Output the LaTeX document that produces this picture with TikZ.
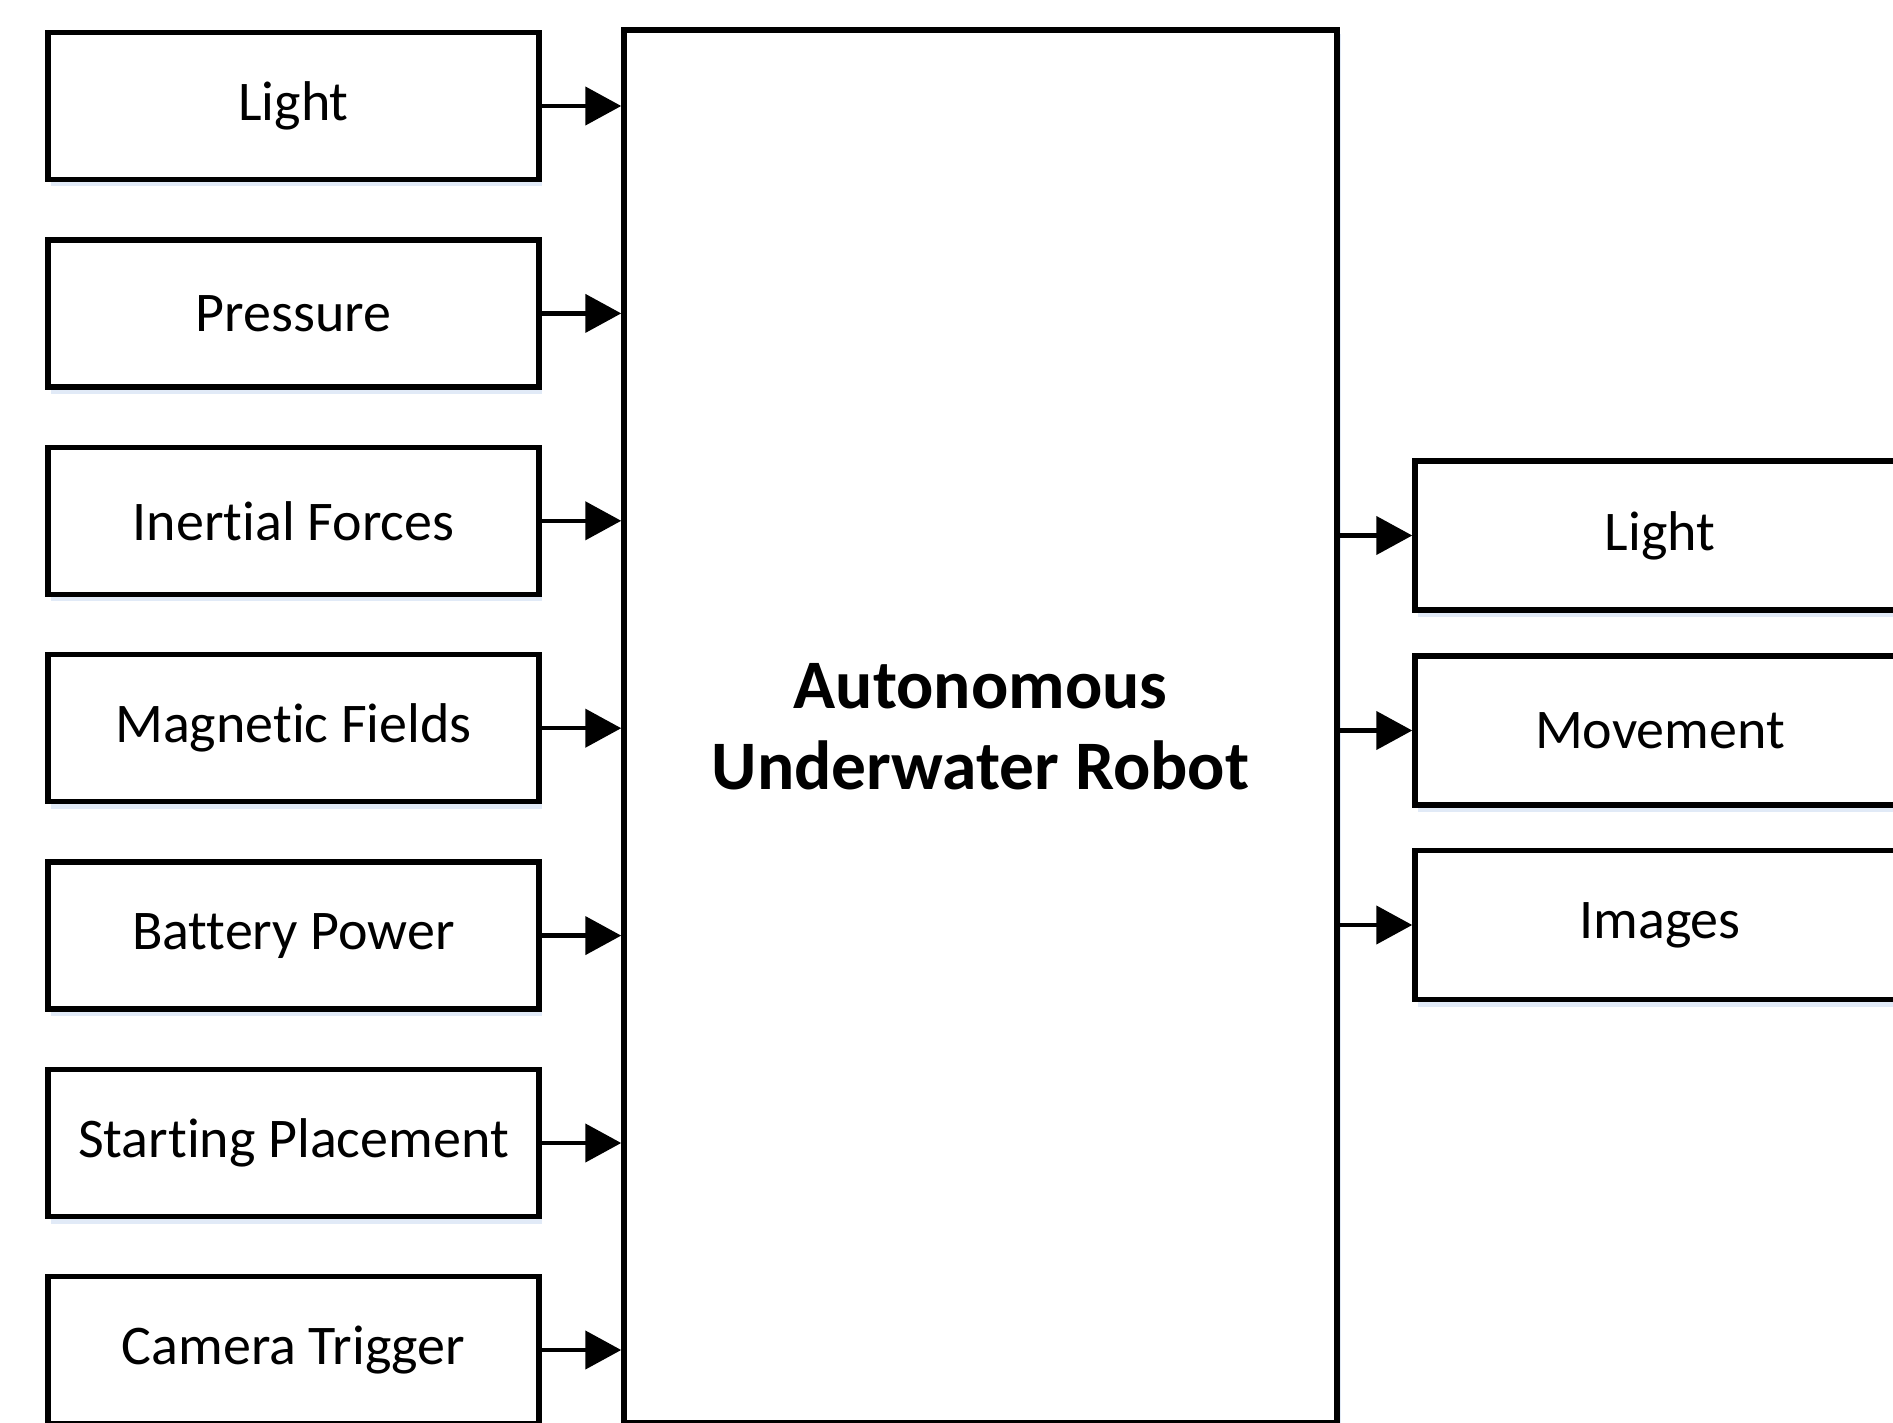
\documentclass[tikz,border=0pt]{standalone}
\usepackage{fontspec}
\setmainfont[RawFeature=-liga]{Carlito}
\usetikzlibrary{arrows.meta,shadows,positioning}
\definecolor{shadowblue}{RGB}{222,232,246}
\tikzset{
  inbox/.style={draw=black, line width=5.5pt, fill=white, minimum width=491pt, minimum height=147pt,
    inner sep=0pt, font=\fontsize{56}{67}\selectfont,
    drop shadow={shadow xshift=3pt, shadow yshift=-7pt, fill=shadowblue, opacity=0.9}},
  outbox/.style={inbox, minimum width=490pt, minimum height=149pt},
  mainbox/.style={draw=black, line width=5.5pt, fill=white, minimum width=713pt, minimum height=1393pt,
    inner sep=0pt, align=center, font=\fontsize{69.5}{81}\selectfont\bfseries,
    drop shadow={shadow xshift=4pt, shadow yshift=-4pt, fill=shadowblue, opacity=0.9}},
  arr/.style={line width=4.5pt, -{Triangle[length=36pt, width=38pt]}}
}
\begin{document}
\begin{tikzpicture}[x=1pt, y=-1pt]
\useasboundingbox (0,0) rectangle (1893,1423);
\node[mainbox] (main) at (980.5,726.5) {Autonomous\\Underwater Robot};
\node[inbox] (l1) at (293.5,106) {Light};
\node[inbox] (l2) at (293.5,313.4) {Pressure};
\node[inbox] (l3) at (293.5,520.8) {Inertial Forces};
\node[inbox] (l4) at (293.5,728.2) {Magnetic Fields};
\node[inbox] (l5) at (293.5,935.6) {Battery Power};
\node[inbox] (l6) at (293.5,1143) {Starting Placement};
\node[inbox] (l7) at (293.5,1350) {Camera Trigger};
\node[outbox] (r1) at (1660,535.5) {Light};
\node[outbox] (r2) at (1660,730.5) {Movement};
\node[outbox] (r3) at (1660,925) {Images};
\foreach \n in {l1,l2,l3,l4,l5,l6,l7}{
  \draw[arr] (\n.east) -- (main.west |- \n.east);
}
\foreach \n in {r1,r2,r3}{
  \draw[arr] (main.east |- \n.west) -- (\n.west);
}
\end{tikzpicture}
\end{document}
